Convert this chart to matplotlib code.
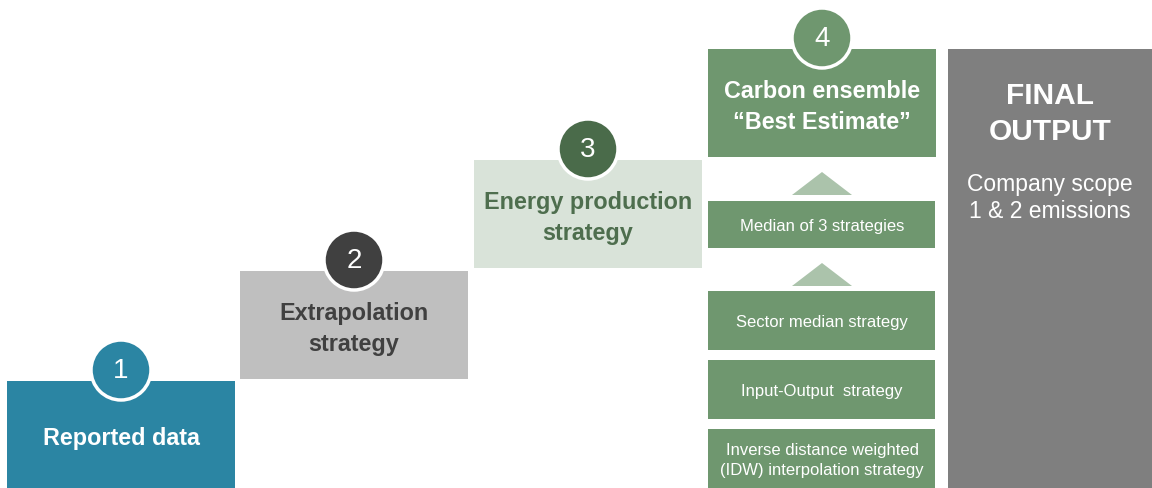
import matplotlib
matplotlib.use("Agg")
import matplotlib.pyplot as plt
from matplotlib.patches import Rectangle, Circle, Polygon

plt.rcParams['font.family'] = ['Liberation Sans', 'DejaVu Sans']

# ---- content ----
step_numbers = ["1", "2", "3", "4"]
step_labels = ["Reported data", "Extrapolation\nstrategy", "Energy production\nstrategy",
               "Carbon ensemble\n\u201cBest Estimate\u201d"]
sub_labels = ["Median of 3 strategies", "Sector median strategy", "Input-Output  strategy",
              "Inverse distance weighted\n(IDW) interpolation strategy"]
final_title = "FINAL\nOUTPUT"
final_sub = "Company scope\n1 & 2 emissions"

# ---- styles ----
box_colors = ["#2B85A3", "#BFBFBF", "#D9E3D9", "#6F976F"]
circle_colors = ["#2B85A3", "#404040", "#4A6B4A", "#6F976F"]
text_colors = ["white", "#404040", "#4E6E4E", "white"]
green = "#6F976F"
tri_color = "#ABC3AB"
final_color = "#7F7F7F"

W, H = 1152, 489
fig = plt.figure(figsize=(W / 100, H / 100), dpi=100)
ax = fig.add_axes([0, 0, 1, 1])
ax.set_xlim(0, W)
ax.set_ylim(H, 0)
ax.axis("off")

# step boxes (x0, y0) in pixels
box_x = [7, 240, 474, 708]
box_y = [382, 272, 161, 50]
bw, bh = 228, 108
for i in range(4):
    ax.add_patch(Rectangle((box_x[i], box_y[i]), bw, bh, color=box_colors[i], lw=0, zorder=1))
    cx = box_x[i] + bw / 2
    ax.add_patch(Circle((cx, box_y[i] - 11), 30, facecolor=circle_colors[i],
                        edgecolor="white", lw=2.5, zorder=3))
    ax.text(cx, box_y[i] - 11, step_numbers[i], color="white", fontsize=20,
            ha="center", va="center", zorder=4)
    ty = box_y[i] + 57
    ax.text(cx, ty, step_labels[i], color=text_colors[i], fontsize=16.8,
            fontweight="bold", ha="center", va="center", linespacing=1.4, zorder=4)

# sub boxes under step 4
sub_y = [202, 292, 361, 430]
sub_h = [47, 59, 59, 59]
cx4 = box_x[3] + bw / 2
for lbl, y0, h in zip(sub_labels, sub_y, sub_h):
    ax.add_patch(Rectangle((box_x[3], y0), bw - 1, h, color=green, lw=0, zorder=1))
    ax.text(cx4, y0 + h / 2 + 1, lbl, color="white", fontsize=12, ha="center",
            va="center", linespacing=1.35, zorder=4)

# triangles
for base_y in [196, 287]:
    ax.add_patch(Polygon([(cx4 - 30, base_y), (cx4 + 30, base_y), (cx4, base_y - 23)],
                         closed=True, color=tri_color, lw=0, zorder=2))

# final output
ax.add_patch(Rectangle((948, 50), W - 948, H - 50, color=final_color, lw=0, zorder=1))
fx = 948 + (W - 948) / 2
ax.text(fx, 114, final_title, color="white", fontsize=21.5, fontweight="bold",
        ha="center", va="center", linespacing=1.4, zorder=4)
ax.text(fx, 198, final_sub, color="white", fontsize=16.5, ha="center",
        va="center", linespacing=1.25, zorder=4)

fig.savefig("out.png", dpi=100, facecolor="white")
